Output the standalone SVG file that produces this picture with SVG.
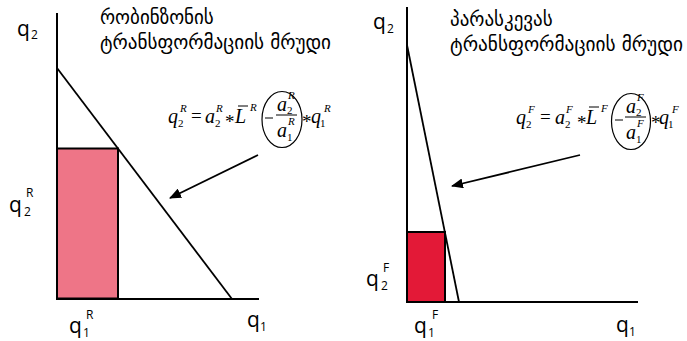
<svg xmlns="http://www.w3.org/2000/svg" width="687" height="341" viewBox="0 0 687 341">
<style>
.ax{stroke:#000;stroke-width:2;fill:none}
.ln{stroke:#000;stroke-width:1.8;fill:none}
.geo{font-family:"DejaVu Sans",sans-serif;font-size:19px;fill:#000}
.lb{font-family:"Open Sans","DejaVu Sans",sans-serif;font-size:21px;fill:#000}
.ls{font-family:"Open Sans","DejaVu Sans",sans-serif;font-size:12px;fill:#000}
.m{font-family:"Liberation Serif",serif;font-style:italic;font-size:20px;fill:#000}
.mu{font-family:"Liberation Serif",serif;font-size:19px;fill:#000}
.ms{font-family:"Liberation Serif",serif;font-size:11px;fill:#000}
.mi{font-family:"Liberation Serif",serif;font-style:italic;font-size:11px;fill:#000}
.th{stroke:#000;stroke-width:1;fill:none}
</style>
<defs>
<marker id="ah" markerWidth="12" markerHeight="10" refX="11" refY="5" orient="auto" markerUnits="userSpaceOnUse">
<path d="M0,0 L12,5 L0,10 Z" fill="#000"/>
</marker>
</defs>

<g id="chart-robinson">
<rect x="57" y="148.5" width="61" height="150" fill="#ee7587" stroke="#000" stroke-width="2"/>
<path class="ax" d="M57,13 V299 H259"/>
<path class="ln" d="M57,68 L232,299"/>
<text class="lb" x="17" y="36">q</text><text class="ls" x="31" y="39">2</text>
<text class="lb" x="9" y="212">q</text><text class="ls" x="24" y="216">2</text><text class="ls" x="26" y="197">R</text>
<text class="lb" x="69" y="333">q</text><text class="ls" x="83" y="337">1</text><text class="ls" x="86" y="319">R</text>
<text class="lb" x="247" y="327">q</text><text class="ls" x="260" y="331">1</text>
</g>

<g id="title-robinson">
<text class="geo" x="100" y="24">რობინზონის</text>
<text class="geo" x="100" y="49" textLength="231" lengthAdjust="spacingAndGlyphs">ტრანსფორმაციის მრუდი</text>
</g>

<g id="formula-robinson">
<text class="m" x="168" y="123">q</text><text class="ms" x="178" y="127">2</text><text class="mi" x="180" y="112">R</text>
<text class="mu" x="191" y="122">=</text>
<text class="m" x="205" y="123">a</text><text class="ms" x="215" y="127">2</text><text class="mi" x="216" y="112">R</text>
<text class="mu" x="225" y="128">*</text>
<text class="m" x="235" y="123">L</text><path class="th" d="M238,106 H248"/><text class="mi" x="250" y="111">R</text>
<ellipse cx="282" cy="119.5" rx="20" ry="28" fill="none" stroke="#000" stroke-width="1.2"/>
<path class="th" d="M265,118 H273"/>
<path class="th" d="M276,115 H297"/>
<text class="m" x="277" y="111">a</text><text class="ms" x="287" y="114">2</text><text class="mi" x="288" y="99">R</text>
<text class="m" x="277" y="137">a</text><text class="ms" x="287" y="141">1</text><text class="mi" x="288" y="125">R</text>
<text class="mu" x="302" y="128">*</text>
<text class="m" x="311" y="123">q</text><text class="ms" x="320" y="127">1</text><text class="mi" x="324" y="112">R</text>
</g>

<g id="chart-friday">
<rect x="407" y="232" width="38" height="70" fill="#e31937" stroke="#000" stroke-width="2"/>
<path class="ax" d="M407,7 V302 H638"/>
<path class="ln" d="M407,45 L459,302"/>
<text class="lb" x="373" y="29">q</text><text class="ls" x="387" y="33">2</text>
<text class="lb" x="366" y="286">q</text><text class="ls" x="381" y="290">2</text><text class="ls" x="383" y="272">F</text>
<text class="lb" x="414" y="333">q</text><text class="ls" x="428" y="337">1</text><text class="ls" x="432" y="319">F</text>
<text class="lb" x="616" y="332">q</text><text class="ls" x="629" y="336">1</text>
</g>

<g id="title-friday">
<text class="geo" x="450" y="26">პარასკევას</text>
<text class="geo" x="450" y="51" textLength="233" lengthAdjust="spacingAndGlyphs">ტრანსფორმაციის მრუდი</text>
</g>

<g id="formula-friday">
<text class="m" x="516" y="124">q</text><text class="ms" x="526" y="128">2</text><text class="mi" x="528" y="113">F</text>
<text class="mu" x="540" y="123">=</text>
<text class="m" x="555" y="124">a</text><text class="ms" x="565" y="128">2</text><text class="mi" x="566" y="113">F</text>
<text class="mu" x="577" y="129">*</text>
<text class="m" x="586" y="124">L</text><path class="th" d="M589,107 H599"/><text class="mi" x="601" y="112">F</text>
<ellipse cx="631" cy="121.5" rx="19.5" ry="28" fill="none" stroke="#000" stroke-width="1.2"/>
<path class="th" d="M615,120 H623"/>
<path class="th" d="M625,117 H646"/>
<text class="m" x="626" y="113">a</text><text class="ms" x="636" y="116">2</text><text class="mi" x="637" y="101">F</text>
<text class="m" x="626" y="139">a</text><text class="ms" x="636" y="143">1</text><text class="mi" x="637" y="127">F</text>
<text class="mu" x="651" y="129">*</text>
<text class="m" x="659" y="124">q</text><text class="ms" x="668" y="128">1</text><text class="mi" x="672" y="113">F</text>
</g>

<g id="connectors">
<path class="ln" d="M258,155 L170,198" marker-end="url(#ah)"/>
<path class="ln" d="M580,155 L452,186" marker-end="url(#ah)"/>
</g>
</svg>
